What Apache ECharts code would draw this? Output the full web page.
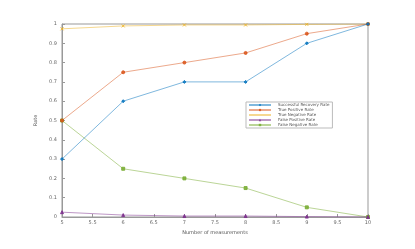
<!DOCTYPE html>
<html><head><meta charset="utf-8">
<script src="https://cdn.jsdelivr.net/npm/echarts@6/dist/echarts.min.js"></script>
<style>html,body{margin:0;padding:0;background:#fff}#c{width:415px;height:249px}</style>
</head><body><div id="c"></div>
<script>
const xValues = [5, 6, 7, 8, 9, 10];
const seriesNames = ['Successful Recovery Rate','True Positive Rate','True Negative Rate','False Positive Rate','False Negative Rate'];
const successRate = [0.3, 0.6, 0.7, 0.7, 0.9, 1.0];
const truePosRate = [0.5, 0.75, 0.8, 0.85, 0.95, 1.0];
const trueNegRate = [0.975, 0.99, 0.995, 0.995, 0.998, 1.0];
const falsePosRate = [0.025, 0.01, 0.005, 0.005, 0.002, 0.0];
const falseNegRate = [0.5, 0.25, 0.2, 0.15, 0.05, 0.0];
const xTickLabels = ['5','5.5','6','6.5','7','7.5','8','8.5','9','9.5','10'];
const yTickLabels = ['0','0.1','0.2','0.3','0.4','0.5','0.6','0.7','0.8','0.9','1'];

const colors = ['#0072BD','#D95319','#EDB120','#7E2F8E','#77AC30'];
const symbols = ['diamond','circle','path://M0,0L10,10M10,0L0,10','triangle','rect'];
const allData = [successRate, truePosRate, trueNegRate, falsePosRate, falseNegRate];

const chart = echarts.init(document.getElementById('c'));
const axisCommon = {
  axisLine:{show:true,lineStyle:{color:'#999',width:1}},
  axisTick:{show:true,inside:true,length:3,lineStyle:{color:'#999'}},
  splitLine:{show:false},
  axisLabel:{fontSize:5,color:'#666',fontFamily:'DejaVu Sans'}
};
chart.setOption({
  animation:false,
  color:colors,
  grid:{left:62,right:47,top:24,bottom:32,show:true,borderColor:'#999',borderWidth:1},
  legend:{
    orient:'vertical',left:246,top:102,itemWidth:22,itemHeight:3,itemGap:1,
    backgroundColor:'#fff',borderColor:'#bbb',borderWidth:1,padding:[1,3,1,2],
    textStyle:{fontSize:4,color:'#555',fontFamily:'DejaVu Sans',padding:[0,0,0,2]},
    data:seriesNames
  },
  xAxis:Object.assign({},axisCommon,{
    type:'value',min:5,max:10,interval:0.5,
    name:'Number of measurements',nameLocation:'middle',nameGap:8,
    nameTextStyle:{fontSize:5,color:'#555',fontFamily:'DejaVu Sans'},
    axisLabel:Object.assign({},axisCommon.axisLabel,{margin:3,formatter:(v)=>xTickLabels[Math.round((v-5)*2)]})
  }),
  yAxis:Object.assign({},axisCommon,{
    type:'value',min:0,max:1,interval:0.1,
    name:'Rate',nameLocation:'middle',nameGap:14,
    nameTextStyle:{fontSize:5,color:'#555',fontFamily:'DejaVu Sans'},
    axisLabel:Object.assign({},axisCommon.axisLabel,{margin:5,formatter:(v)=>yTickLabels[Math.round(v*10)]})
  }),
  series:seriesNames.map((n,i)=>({
    name:n,type:'line',
    data:xValues.map((x,j)=>[x,allData[i][j]]),
    symbol:symbols[i],
    symbolSize:3,
    lineStyle:{width:1,color:colors[i],opacity:0.5},
    itemStyle:{color:colors[i],borderColor:colors[i],opacity:0.85},
    z:10-i
  }))
});
</script></body></html>
